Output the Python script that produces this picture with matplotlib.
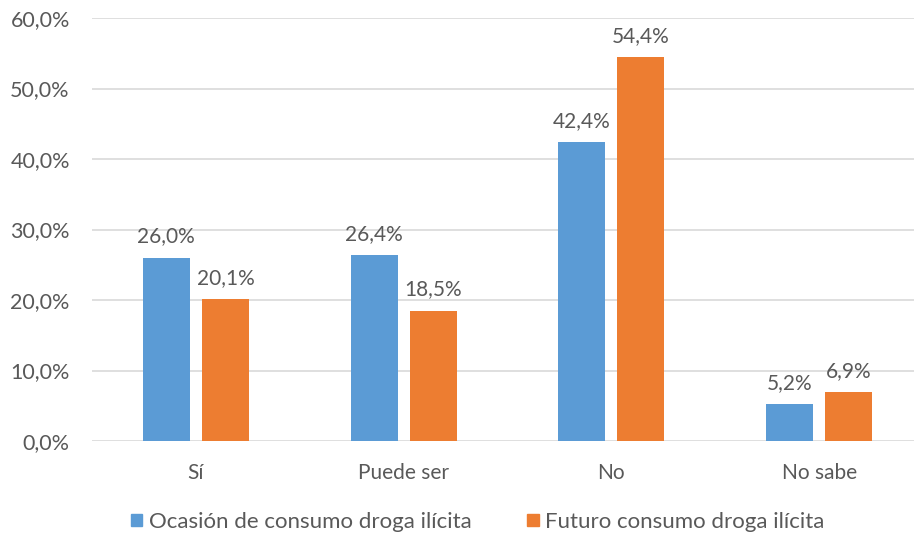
import numpy as np
import matplotlib
matplotlib.use("Agg")
import matplotlib.pyplot as plt
from matplotlib.patches import Patch

categorias = ["Sí", "Puede ser", "No", "No sabe"]
ocasion = [26.0, 26.4, 42.4, 5.2]
futuro = [20.1, 18.5, 54.4, 6.9]
series = ["Ocasión de consumo droga ilícita", "Futuro consumo droga ilícita"]
yticks = [0, 10, 20, 30, 40, 50, 60]

azul = "#5B9BD5"
naranja = "#ED7D31"
gris = "#595959"

plt.rcParams["font.family"] = ["Lato", "DejaVu Sans"]

fig = plt.figure(figsize=(9.14, 5.39), dpi=100)
ax = fig.add_axes([92 / 914, 1 - 441 / 539, 831 / 914, 423 / 539])

x = np.arange(len(categorias))
w = 0.226
off = 0.142
b1 = ax.bar(x - off, ocasion, w, color=azul, zorder=3)
b2 = ax.bar(x + off, futuro, w, color=naranja, zorder=3)

def fmt(v):
    return f"{v:.1f}%".replace(".", ",")

for bars, vals in ((b1, ocasion), (b2, futuro)):
    for r, v in zip(bars, vals):
        ax.annotate(fmt(v), (r.get_x() + r.get_width() / 2, v), xytext=(0, 8),
                    textcoords="offset points", ha="center", va="bottom",
                    fontsize=15, color=gris)

ax.set_xlim(-0.5, len(categorias) - 0.5)
ax.set_ylim(0, 60)
ax.set_yticks(yticks)
ax.set_yticklabels([fmt(t) for t in yticks], fontsize=15.5, color=gris)
ax.set_xticks(x)
ax.set_xticklabels(categorias, fontsize=15, color=gris)
ax.tick_params(length=0)
ax.tick_params(axis="y", pad=16)
ax.tick_params(axis="x", pad=16)
ax.yaxis.grid(True, color="#D9D9D9", linewidth=1.2, zorder=0)
for s in ax.spines.values():
    s.set_visible(False)

handles = [Patch(color=azul), Patch(color=naranja)]
fig.legend(handles, series, loc="center", bbox_to_anchor=(478 / 914, 1 - 522 / 539),
           ncol=2, frameon=False, fontsize=16, labelcolor=gris,
           handlelength=0.5, handleheight=0.5, handletextpad=0.3, columnspacing=2.5)

fig.savefig("out.png", dpi=100)
